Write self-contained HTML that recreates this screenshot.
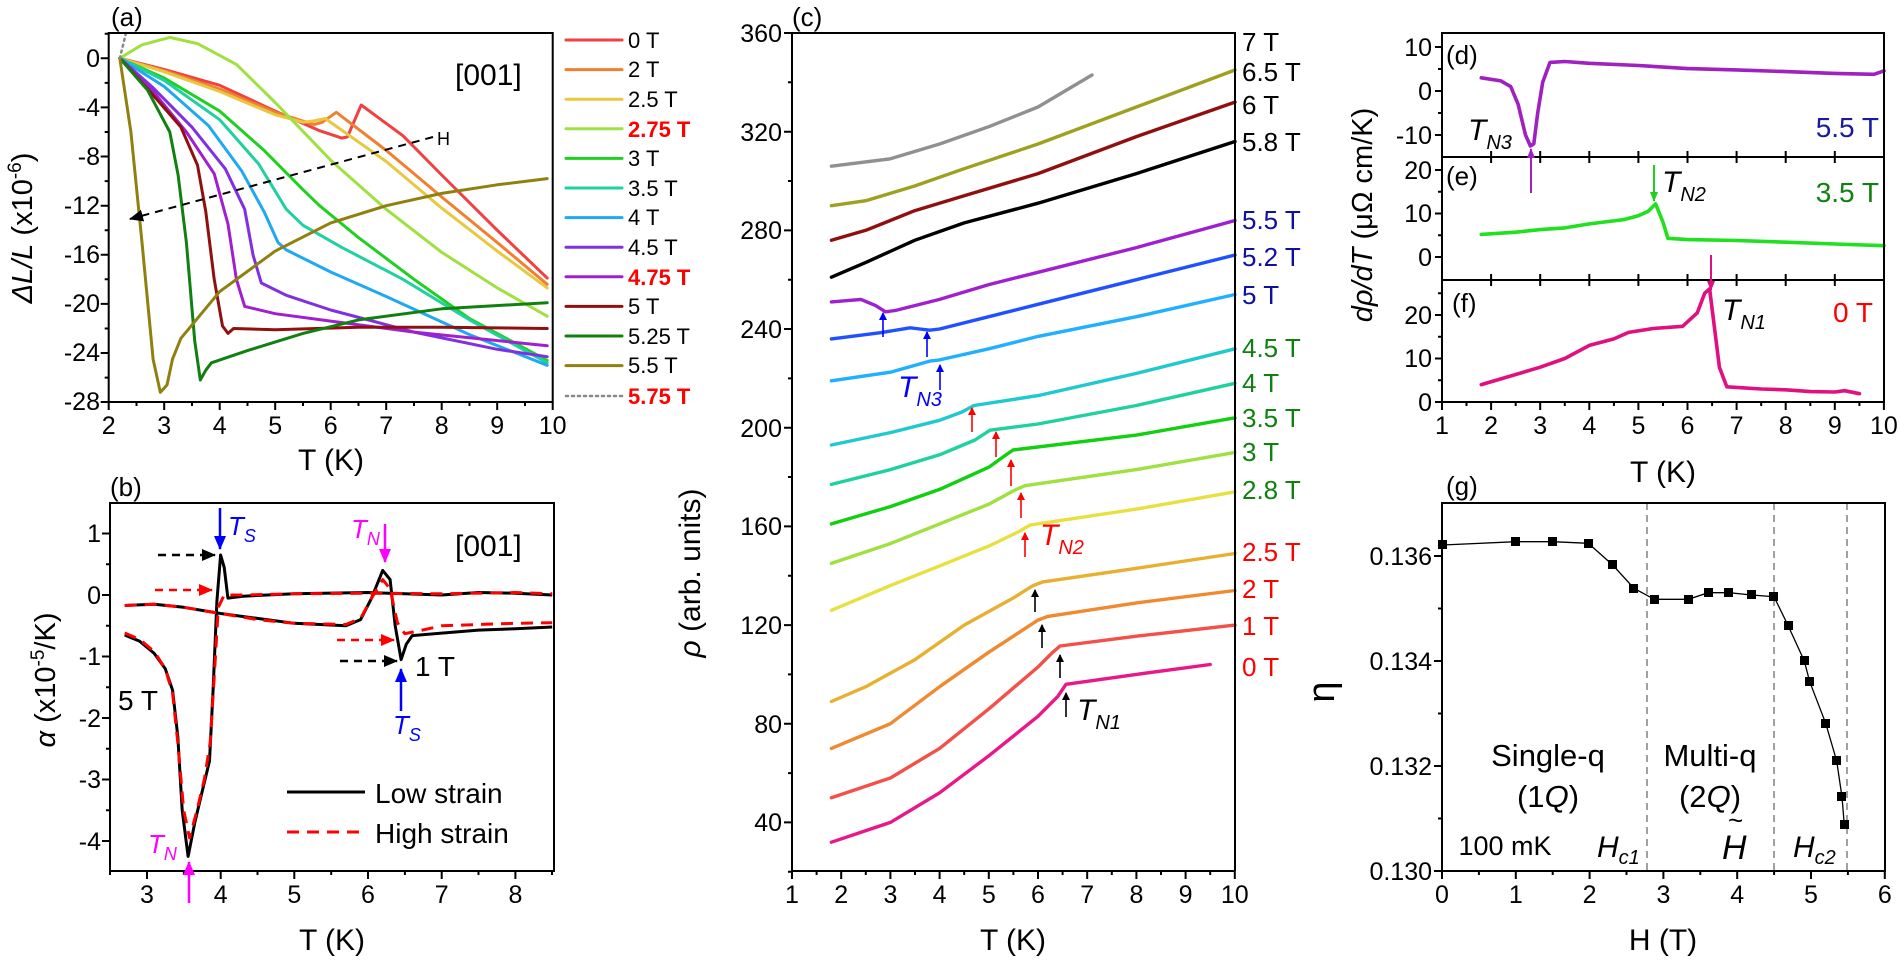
<!DOCTYPE html>
<html><head><meta charset="utf-8"><style>
html,body{margin:0;padding:0;background:#fff}
svg{display:block;font-family:"Liberation Sans",sans-serif}
</style></head><body>
<svg width="1900" height="964" viewBox="0 0 1900 964" xmlns="http://www.w3.org/2000/svg">
<rect width="1900" height="964" fill="#fff"/>
<defs>
<marker id="ak" markerWidth="8" markerHeight="8" refX="7" refY="4" orient="auto" markerUnits="userSpaceOnUse"><path d="M0,0 L8,4 L0,8z" fill="#000"/></marker>
<marker id="ak2" markerWidth="14" markerHeight="12" refX="13" refY="6" orient="auto" markerUnits="userSpaceOnUse"><path d="M0,0 L14,6 L0,12z" fill="#000"/></marker>
<marker id="ar2" markerWidth="14" markerHeight="12" refX="13" refY="6" orient="auto" markerUnits="userSpaceOnUse"><path d="M0,0 L14,6 L0,12z" fill="#f00"/></marker>
<marker id="ab" markerWidth="14" markerHeight="12" refX="13" refY="6" orient="auto" markerUnits="userSpaceOnUse"><path d="M0,0 L14,6 L0,12z" fill="#00f"/></marker>
<marker id="am" markerWidth="14" markerHeight="12" refX="13" refY="6" orient="auto" markerUnits="userSpaceOnUse"><path d="M0,0 L14,6 L0,12z" fill="#f0f"/></marker>
<marker id="ar" markerWidth="8" markerHeight="8" refX="7" refY="4" orient="auto" markerUnits="userSpaceOnUse"><path d="M0,0 L8,4 L0,8z" fill="#f00"/></marker>
<marker id="ab2" markerWidth="8" markerHeight="8" refX="7" refY="4" orient="auto" markerUnits="userSpaceOnUse"><path d="M0,0 L8,4 L0,8z" fill="#00f"/></marker>
<marker id="ag" markerWidth="10" markerHeight="10" refX="9" refY="4" orient="auto" markerUnits="userSpaceOnUse"><path d="M0,0 L10,4 L0,8z" fill="#20d020"/></marker>
<marker id="ap" markerWidth="10" markerHeight="10" refX="9" refY="4" orient="auto" markerUnits="userSpaceOnUse"><path d="M0,0 L10,4 L0,8z" fill="#a020c0"/></marker>
<marker id="apk" markerWidth="10" markerHeight="10" refX="9" refY="4" orient="auto" markerUnits="userSpaceOnUse"><path d="M0,0 L10,4 L0,8z" fill="#e01080"/></marker>
</defs>

<!-- ================= (a) ================= -->
<g fill="none" stroke-width="3" stroke-linejoin="round" stroke-linecap="round">
<polyline stroke="#f04040" points="119.8,58.3 164.2,69.4 219.7,85.3 275.2,111.1 319.6,130.7 341.8,138.1 347.4,136.9 361.2,105 402.9,135.7 441.7,175 497.2,230.2 547.2,278.1"/>
<polyline stroke="#f08030" points="119.8,58.3 164.2,70.6 219.7,89 275.2,112.3 314.1,124.6 322.4,122.2 336.3,112.3 386.2,150.4 441.7,197 497.2,242.5 547.2,284.3"/>
<polyline stroke="#e8c840" points="119.8,58.3 164.2,71.8 219.7,91.5 275.2,114.8 303,122.2 314.1,120.9 325.2,118.5 386.2,161.5 441.7,208.1 497.2,251.1 547.2,287.9"/>
<polyline stroke="#a0e040" points="119.8,58.3 142,44.8 169.8,37.4 197.5,43.6 236.4,64.4 275.2,102.5 330.7,160.2 386.2,209.3 441.7,252.3 497.2,287.9 547.2,316.2"/>
<polyline stroke="#20d020" points="119.8,58.3 164.2,78 219.7,111.1 264.1,150.4 303,189.7 319.6,205.7 358.5,237.6 414,279.3 469.5,318.6 547.2,360.4"/>
<polyline stroke="#20d0a0" points="119.8,58.3 164.2,80.4 219.7,119.7 258.6,163.9 286.3,209.3 303,225.3 341.8,247.4 402.9,279.3 469.5,319.9 547.2,362.8"/>
<polyline stroke="#20a8f0" points="119.8,58.3 164.2,86.5 208.6,125.8 241.9,171.3 264.1,211.8 278,242.5 286.3,249.9 330.7,272 386.2,296.5 469.5,334.6 547.2,365.3"/>
<polyline stroke="#8030e0" points="119.8,58.3 153.1,87.8 191.9,127.1 225.3,168.8 244.7,209.3 253,254.8 261.3,283 286.3,295.3 330.7,310 414,332.1 497.2,349.3 547.2,356.7"/>
<polyline stroke="#a020d0" points="119.8,58.3 153.1,91.5 186.4,132 214.2,173.7 228,224.1 236.4,279.3 244.7,306.4 275.2,313.7 330.7,321.1 414,332.1 547.2,345.7"/>
<polyline stroke="#901010" points="119.8,58.3 153.1,95.1 180.9,127.1 197.5,165.1 205.8,211.8 214.2,279.3 222.5,326 228,333.4 233.6,328.5 275.2,329.7 358.5,327.2 441.7,327.2 547.2,328.5"/>
<polyline stroke="#108010" points="119.8,58.3 147.6,90.2 169.8,132 178.1,175 186.4,242.5 194.7,340.7 200.3,380 205.8,370.2 211.4,362.8 247.5,350.6 303,333.4 358.5,319.9 441.7,308.8 547.2,302.7"/>
<polyline stroke="#908010" points="119.8,58.3 130.9,132 142,242.5 153.1,359.2 160.3,392.3 167,385 172.5,359.2 180.9,338.3 219.7,291.6 275.2,251.1 330.7,222.9 386.2,205.7 441.7,193.4 497.2,184.8 547.2,178.6"/>
<polyline stroke="#888" stroke-width="2.5" stroke-dasharray="2,4" points="119.8,58.3 126,33"/>
<!-- legend lines -->
<line x1="566" y1="40" x2="622" y2="40" stroke="#f04040"/>
<line x1="566" y1="69.6" x2="622" y2="69.6" stroke="#f08030"/>
<line x1="566" y1="99.2" x2="622" y2="99.2" stroke="#e8c840"/>
<line x1="566" y1="128.8" x2="622" y2="128.8" stroke="#a0e040"/>
<line x1="566" y1="158.4" x2="622" y2="158.4" stroke="#20d020"/>
<line x1="566" y1="188" x2="622" y2="188" stroke="#20d0a0"/>
<line x1="566" y1="217.6" x2="622" y2="217.6" stroke="#20a8f0"/>
<line x1="566" y1="247.2" x2="622" y2="247.2" stroke="#8030e0"/>
<line x1="566" y1="276.8" x2="622" y2="276.8" stroke="#a020d0"/>
<line x1="566" y1="306.4" x2="622" y2="306.4" stroke="#901010"/>
<line x1="566" y1="336" x2="622" y2="336" stroke="#108010"/>
<line x1="566" y1="365.6" x2="622" y2="365.6" stroke="#908010"/>
<line x1="566" y1="396" x2="622" y2="396" stroke="#888" stroke-width="2.5" stroke-dasharray="2,4"/>
</g>
<line x1="433" y1="137" x2="130" y2="219" stroke="#000" stroke-width="2" stroke-dasharray="8,6" marker-end="url(#ak2)"/>
<rect x="108.7" y="33" width="444" height="369" fill="none" stroke="#000" stroke-width="2"/>
<path stroke="#000" stroke-width="2" fill="none" d="M108.7,402v8M164.2,402v8M219.7,402v8M275.2,402v8M330.7,402v8M386.2,402v8M441.7,402v8M497.2,402v8M552.7,402v8
M136.5,402v4M192,402v4M247.5,402v4M303,402v4M358.5,402v4M414,402v4M469.5,402v4M525,402v4
M108.7,58.3h-8M108.7,107.4h-8M108.7,156.5h-8M108.7,205.7h-8M108.7,254.8h-8M108.7,303.9h-8M108.7,353h-8M108.7,402h-8
M108.7,33.7h-4M108.7,82.9h-4M108.7,132h-4M108.7,181.1h-4M108.7,230.2h-4M108.7,279.3h-4M108.7,328.5h-4M108.7,377.6h-4"/>
<g font-size="25" text-anchor="end">
<text x="100" y="67">0</text><text x="100" y="116">-4</text><text x="100" y="165">-8</text><text x="100" y="214">-12</text>
<text x="100" y="263">-16</text><text x="100" y="312">-20</text><text x="100" y="361">-24</text><text x="100" y="410">-28</text>
</g>
<g font-size="25" text-anchor="middle">
<text x="108.7" y="434">2</text><text x="164.2" y="434">3</text><text x="219.7" y="434">4</text><text x="275.2" y="434">5</text>
<text x="330.7" y="434">6</text><text x="386.2" y="434">7</text><text x="441.7" y="434">8</text><text x="497.2" y="434">9</text><text x="552.7" y="434">10</text>
</g>
<text x="111" y="26" font-size="26">(a)</text>
<text x="455" y="85" font-size="30">[001]</text>
<text x="437" y="145" font-size="18">H</text>
<text x="331" y="470" font-size="30" text-anchor="middle">T (K)</text>
<text transform="translate(32,228) rotate(-90)" text-anchor="middle" font-size="29"><tspan font-style="italic">ΔL/L</tspan> (x10<tspan dy="-11" font-size="19">-6</tspan><tspan dy="11">)</tspan></text>
<g font-size="22">
<text x="628" y="48">0 T</text><text x="628" y="77">2 T</text><text x="628" y="107">2.5 T</text>
<text x="628" y="137" fill="#f00" font-weight="bold">2.75 T</text>
<text x="628" y="166">3 T</text><text x="628" y="196">3.5 T</text><text x="628" y="225">4 T</text>
<text x="628" y="255">4.5 T</text>
<text x="628" y="285" fill="#f00" font-weight="bold">4.75 T</text>
<text x="628" y="314">5 T</text><text x="628" y="344">5.25 T</text><text x="628" y="373">5.5 T</text>
<text x="628" y="404" fill="#f00" font-weight="bold">5.75 T</text>
</g>

<!-- ================= (b) ================= -->
<g fill="none" stroke-width="3" stroke-linejoin="round">
<polyline stroke="#000" points="124.7,635 139.5,641.1 154.2,653.4 165.3,668.8 172.6,690.3 177.8,736.5 182.2,810.3 188.1,856.4 194.8,822.6 202.1,791.8 209.5,761 213.2,687.3 216.9,601.2 220.6,555 224.2,567.3 227.9,598.1 242.7,596.2 294.3,593.8 368,592.5 404.8,593.8 441.7,595 478.5,592.5 515.4,593.2 552.2,595"/>
<polyline stroke="#000" points="124.7,605.5 154.2,604.2 183.7,607.3 220.6,613.5 257.4,618.4 294.3,623.3 345.8,625.8 360.6,619.6 371.6,598.1 382.7,570.4 390.1,579.6 395.2,625.8 401.1,659.6 406.3,644.2 412.2,635.6 441.7,633.1 478.5,630.1 515.4,628.8 552.2,627"/>
<polyline stroke="#f00" stroke-dasharray="12,8" points="124.7,633 139.5,639.3 154.2,651.6 165.3,668.8 172.6,693.4 177.8,742.6 183.7,810.3 189.6,837.9 197,810.3 204.3,779.5 210.2,742.6 214.7,668.8 218.3,607.3 224.2,595 242.7,595 294.3,593.8 368,593.2 441.7,593.8 515.4,592.5 552.2,593.8"/>
<polyline stroke="#f00" stroke-dasharray="12,8" points="124.7,605.5 154.2,604.2 183.7,607.3 220.6,613.5 257.4,619.6 294.3,623.3 345.8,624.5 360.6,618.4 371.6,598.1 382.7,579.6 390.1,588.9 397.4,622.7 404.8,633.7 419.5,630.7 441.7,625.8 478.5,624.5 515.4,623.3 552.2,622.7"/>
</g>
<rect x="110" y="503" width="444" height="368" fill="none" stroke="#000" stroke-width="2"/>
<path stroke="#000" stroke-width="2" fill="none" d="M147,871v8M220.7,871v8M294.3,871v8M368,871v8M441.7,871v8M515.4,871v8
M110,871v4M183.9,871v4M257.5,871v4M331.2,871v4M404.9,871v4M478.5,871v4M552,871v4
M110,533.5h-8M110,595h-8M110,656.5h-8M110,718h-8M110,779.5h-8M110,841h-8
M110,564.3h-4M110,625.8h-4M110,687.3h-4M110,748.8h-4M110,810.3h-4"/>
<g font-size="25" text-anchor="end">
<text x="101" y="542">1</text><text x="101" y="604">0</text><text x="101" y="665">-1</text><text x="101" y="727">-2</text><text x="101" y="788">-3</text><text x="101" y="850">-4</text>
</g>
<g font-size="25" text-anchor="middle">
<text x="147" y="903">3</text><text x="220.7" y="903">4</text><text x="294.3" y="903">5</text><text x="368" y="903">6</text><text x="441.7" y="903">7</text><text x="515.4" y="903">8</text>
</g>
<text x="110" y="496" font-size="26">(b)</text>
<text x="455" y="556" font-size="30">[001]</text>
<text x="118" y="710" font-size="28">5 T</text>
<text x="415" y="676" font-size="28">1 T</text>
<text x="375" y="803" font-size="28">Low strain</text>
<text x="375" y="843" font-size="28">High strain</text>
<text x="332" y="950" font-size="30" text-anchor="middle">T (K)</text>
<text transform="translate(55,680) rotate(-90)" text-anchor="middle" font-size="29"><tspan font-style="italic">α</tspan> (x10<tspan dy="-11" font-size="19">-5</tspan><tspan dy="11">/K)</tspan></text>
<g font-style="italic" font-size="26">
<text x="228" y="535" fill="#00f">T<tspan dy="7" font-size="18">S</tspan></text>
<text x="351" y="538" fill="#f0f">T<tspan dy="7" font-size="18">N</tspan></text>
<text x="393" y="734" fill="#00f">T<tspan dy="7" font-size="18">S</tspan></text>
<text x="148" y="853" fill="#f0f">T<tspan dy="7" font-size="18">N</tspan></text>
</g>
<g stroke-width="2.5">
<line x1="158" y1="555" x2="215" y2="555" stroke="#000" stroke-dasharray="8,6" marker-end="url(#ak2)"/>
<line x1="155" y1="590" x2="212" y2="590" stroke="#f00" stroke-dasharray="8,6" marker-end="url(#ar2)"/>
<line x1="337" y1="640" x2="394" y2="640" stroke="#f00" stroke-dasharray="8,6" marker-end="url(#ar2)"/>
<line x1="340" y1="661" x2="397" y2="661" stroke="#000" stroke-dasharray="8,6" marker-end="url(#ak2)"/>
<line x1="220" y1="508" x2="220" y2="549" stroke="#00f" marker-end="url(#ab)"/>
<line x1="385" y1="524" x2="385" y2="562" stroke="#f0f" marker-end="url(#am)"/>
<line x1="401" y1="711" x2="401" y2="669" stroke="#00f" marker-end="url(#ab)"/>
<line x1="189" y1="903" x2="189" y2="862" stroke="#f0f" marker-end="url(#am)"/>
<line x1="287" y1="792" x2="365" y2="792" stroke="#000" stroke-width="3"/>
<line x1="287" y1="832" x2="365" y2="832" stroke="#f00" stroke-width="3" stroke-dasharray="12,8"/>
</g>

<!-- ================= (c) ================= -->
<g fill="none" stroke-width="3.4" stroke-linejoin="round" stroke-linecap="round">
<polyline stroke="#e8178a" points="831.4,842.2 890.4,822.4 939.6,792.8 988.8,755.8 1038,716.3 1057.7,696.6 1066,684.3 1136.4,674.4 1210.2,664.5"/>
<polyline stroke="#f4504a" points="831.4,797.7 890.4,778 939.6,748.4 988.8,708.9 1038,667 1052,653 1060,646 1136.4,636.2 1235,625.1"/>
<polyline stroke="#f08a30" points="831.4,748.4 890.4,723.7 939.6,686.7 988.8,652.2 1038,620.1 1047.8,616.4 1136.4,602.9 1235,590.5"/>
<polyline stroke="#e8b030" points="831.4,701.5 865.8,686.7 915,659.6 964.2,625.1 1013.4,597.9 1033.1,585.6 1042.9,581.9 1136.4,568.3 1235,553.5"/>
<polyline stroke="#e8e040" points="831.4,610.3 890.4,585.6 939.6,565.9 988.8,546.1 1020,531 1030,525.1 1136.4,509.1 1235,491.8"/>
<polyline stroke="#a0e040" points="831.4,563.4 890.4,543.6 939.6,523.9 988.8,504.2 1015,490 1025,485.7 1136.4,469.6 1235,452.4"/>
<polyline stroke="#10d010" points="831.4,523.9 890.4,506.6 939.6,489.4 988.8,467.2 1003,457 1013,450 1136.4,435.1 1235,417.8"/>
<polyline stroke="#20d0a0" points="831.4,484.4 890.4,469.6 939.6,454.8 975,440 990,430.2 1038,424 1136.4,405.5 1235,383.3"/>
<polyline stroke="#20c8d0" points="831.4,445 890.4,432.6 939.6,420.3 962,412 974,405.5 1038,395.6 1136.4,373.4 1235,348.8"/>
<polyline stroke="#20b0ff" points="831.4,380.8 890.4,372.2 929.8,361.1 939.6,359.9 988.8,348.8 1038,336.4 1136.4,316.7 1235,294.5"/>
<polyline stroke="#2050ff" points="831.4,338.9 880.6,332.7 910.1,327.8 919.9,329 929.8,330.2 939.6,329 988.8,316.7 1038,304.3 1136.4,279.7 1235,255"/>
<polyline stroke="#a020d0" points="831.4,301.9 860.9,299.4 875.6,305.6 885.5,311.8 895.3,310.5 939.6,299.4 988.8,284.6 1038,272.3 1136.4,247.6 1235,220.5"/>
<polyline stroke="#000" points="831.4,277.2 865.8,262.4 915,240.2 964.2,222.9 1038,203.2 1136.4,173.6 1235,141.5"/>
<polyline stroke="#901010" points="831.4,240.2 865.8,230.3 915,210.6 964.2,195.8 1038,173.6 1136.4,136.6 1235,102.1"/>
<polyline stroke="#a0a020" points="831.4,205.7 865.8,200.7 915,185.9 964.2,168.7 1038,144 1136.4,107 1235,70"/>
<polyline stroke="#909090" points="831.4,166.2 890.4,158.8 939.6,144 988.8,126.7 1038,107 1092,75"/>
</g>
<path stroke="#000" stroke-width="2" fill="none" d="M792,33H1235V871M792,33V871H1235
M792,871v8M841.2,871v8M890.4,871v8M939.6,871v8M988.8,871v8M1038,871v8M1087.2,871v8M1136.4,871v8M1185.6,871v8M1234.8,871v8
M816.6,871v4M865.8,871v4M915,871v4M964.2,871v4M1013.4,871v4M1062.6,871v4M1111.8,871v4M1161,871v4M1210.2,871v4
M792,33h-8M792,131.7h-8M792,230.4h-8M792,329h-8M792,427.7h-8M792,526.4h-8M792,625.1h-8M792,723.8h-8M792,822.4h-8
M792,82.3h-4M792,181h-4M792,279.7h-4M792,378.4h-4M792,477h-4M792,575.8h-4M792,674.4h-4M792,773.1h-4M792,871.8h-4"/>
<g font-size="25" text-anchor="end">
<text x="782" y="42">360</text><text x="782" y="141">320</text><text x="782" y="239">280</text><text x="782" y="338">240</text>
<text x="782" y="437">200</text><text x="782" y="535">160</text><text x="782" y="634">120</text><text x="782" y="733">80</text><text x="782" y="831">40</text>
</g>
<g font-size="25" text-anchor="middle">
<text x="792" y="903">1</text><text x="841.2" y="903">2</text><text x="890.4" y="903">3</text><text x="939.6" y="903">4</text><text x="988.8" y="903">5</text>
<text x="1038" y="903">6</text><text x="1087.2" y="903">7</text><text x="1136.4" y="903">8</text><text x="1185.6" y="903">9</text><text x="1234.8" y="903">10</text>
</g>
<text x="792" y="26" font-size="26">(c)</text>
<text x="1013" y="950" font-size="30" text-anchor="middle">T (K)</text>
<text transform="translate(700,573) rotate(-90)" text-anchor="middle" font-size="30"><tspan font-style="italic">ρ</tspan> (arb. units)</text>
<g font-size="26">
<text x="1242" y="51">7 T</text><text x="1242" y="81">6.5 T</text><text x="1242" y="114">6 T</text><text x="1242" y="151">5.8 T</text>
<text x="1242" y="229" fill="#1010a0">5.5 T</text><text x="1242" y="266" fill="#1010a0">5.2 T</text><text x="1242" y="304" fill="#1010a0">5 T</text>
<text x="1242" y="357" fill="#108010">4.5 T</text><text x="1242" y="392" fill="#108010">4 T</text><text x="1242" y="427" fill="#108010">3.5 T</text><text x="1242" y="461" fill="#108010">3 T</text><text x="1242" y="499" fill="#108010">2.8 T</text>
<text x="1242" y="561" fill="#f00">2.5 T</text><text x="1242" y="598" fill="#f00">2 T</text><text x="1242" y="635" fill="#f00">1 T</text><text x="1242" y="676" fill="#f00">0 T</text>
</g>
<g font-style="italic" font-size="30">
<text x="898" y="397" fill="#00f">T<tspan dy="9" font-size="20">N3</tspan></text>
<text x="1040" y="545" fill="#f00">T<tspan dy="9" font-size="20">N2</tspan></text>
<text x="1077" y="720" fill="#000">T<tspan dy="9" font-size="20">N1</tspan></text>
</g>
<g stroke-width="1.6">
<line x1="1066" y1="717" x2="1066" y2="693" stroke="#000" marker-end="url(#ak)"/>
<line x1="1060" y1="678" x2="1060" y2="655" stroke="#000" marker-end="url(#ak)"/>
<line x1="1042" y1="648" x2="1042" y2="625" stroke="#000" marker-end="url(#ak)"/>
<line x1="1035" y1="612" x2="1035" y2="590" stroke="#000" marker-end="url(#ak)"/>
<line x1="1025" y1="557" x2="1025" y2="533" stroke="#f00" marker-end="url(#ar)"/>
<line x1="1021" y1="518" x2="1021" y2="493" stroke="#f00" marker-end="url(#ar)"/>
<line x1="1011" y1="486" x2="1011" y2="460" stroke="#f00" marker-end="url(#ar)"/>
<line x1="996" y1="457" x2="996" y2="432" stroke="#f00" marker-end="url(#ar)"/>
<line x1="972" y1="432" x2="972" y2="408" stroke="#f00" marker-end="url(#ar)"/>
<line x1="940" y1="390" x2="940" y2="365" stroke="#00f" marker-end="url(#ab2)"/>
<line x1="927" y1="357" x2="927" y2="332" stroke="#00f" marker-end="url(#ab2)"/>
<line x1="883" y1="337" x2="883" y2="313" stroke="#00f" marker-end="url(#ab2)"/>
</g>

<!-- ================= (d,e,f) ================= -->
<g fill="none" stroke-width="3.6" stroke-linejoin="round" stroke-linecap="round">
<polyline stroke="#a020c0" points="1481.3,77.8 1500.9,80.9 1510.7,86.6 1518.1,104.2 1525.5,135 1530.4,146 1533.8,143.8 1537.7,113 1542.7,82.2 1550,62.4 1564.8,61.5 1589.3,63.3 1638.4,65.5 1687.5,68.6 1736.6,69.9 1785.7,71.6 1834.8,73.4 1874.1,74.3 1884,70.8"/>
<polyline stroke="#20e020" points="1481.3,234.4 1515.7,232.2 1540.2,229.6 1564.8,227.9 1589.3,223.9 1623.7,219.6 1638.4,215.7 1648.2,211.3 1655.6,203.9 1663,222.2 1667.9,238.3 1687.5,239.6 1736.6,240.5 1785.7,242.2 1834.8,244 1884,245.7"/>
<polyline stroke="#e01080" points="1481.3,384.6 1500.9,378.9 1540.2,367.2 1564.8,358.5 1589.3,345.4 1613.9,338.9 1628.6,332.4 1653.1,328.5 1682.6,326.3 1697.3,312.8 1704.7,293.2 1709.6,288.9 1714.5,328 1719.4,367.2 1726.8,386.8 1761.2,389 1785.7,389.8 1810.4,391.6 1834.8,392 1844.6,390.7 1859.4,393.7"/>
</g>
<rect x="1442" y="33" width="442" height="369" fill="none" stroke="#000" stroke-width="2"/>
<path stroke="#000" stroke-width="2" fill="none" d="M1442,157H1884M1442,280H1884
M1442,402v8M1491.1,402v8M1540.2,402v8M1589.3,402v8M1638.4,402v8M1687.5,402v8M1736.6,402v8M1785.7,402v8M1834.8,402v8M1883.9,402v8
M1466.5,402v4M1515.7,402v4M1564.8,402v4M1613.9,402v4M1663,402v4M1712.1,402v4M1761.2,402v4M1810.3,402v4M1859.4,402v4
M1491.1,151v12M1540.2,151v12M1589.3,151v12M1638.4,151v12M1687.5,151v12M1736.6,151v12M1785.7,151v12M1834.8,151v12
M1491.1,274v12M1540.2,274v12M1589.3,274v12M1638.4,274v12M1687.5,274v12M1736.6,274v12M1785.7,274v12M1834.8,274v12
M1442,47h-7M1442,91h-7M1442,135h-7M1442,69h-4M1442,113h-4
M1442,170h-7M1442,213.5h-7M1442,257h-7M1442,191.8h-4M1442,235.3h-4
M1442,315h-7M1442,358.5h-7M1442,402h-7M1442,293.3h-4M1442,336.8h-4M1442,380.3h-4"/>
<g font-size="25" text-anchor="end">
<text x="1432" y="56">10</text><text x="1432" y="100">0</text><text x="1432" y="144">-10</text>
<text x="1432" y="179">20</text><text x="1432" y="222">10</text><text x="1432" y="266">0</text>
<text x="1432" y="324">20</text><text x="1432" y="367">10</text><text x="1432" y="411">0</text>
</g>
<g font-size="25" text-anchor="middle">
<text x="1442" y="434">1</text><text x="1491.1" y="434">2</text><text x="1540.2" y="434">3</text><text x="1589.3" y="434">4</text><text x="1638.4" y="434">5</text>
<text x="1687.5" y="434">6</text><text x="1736.6" y="434">7</text><text x="1785.7" y="434">8</text><text x="1834.8" y="434">9</text><text x="1883.9" y="434">10</text>
</g>
<g font-size="26">
<text x="1446" y="64">(d)</text><text x="1446" y="185">(e)</text><text x="1452" y="312">(f)</text>
</g>
<g font-style="italic" font-size="30">
<text x="1468" y="140">T<tspan dy="9" font-size="20">N3</tspan></text>
<text x="1662" y="192">T<tspan dy="9" font-size="20">N2</tspan></text>
<text x="1722" y="320">T<tspan dy="9" font-size="20">N1</tspan></text>
</g>
<g font-size="28" text-anchor="end">
<text x="1879" y="137" fill="#1a1aa0">5.5 T</text>
<text x="1879" y="202" fill="#108010">3.5 T</text>
<text x="1873" y="322" fill="#f00">0 T</text>
</g>
<text x="1663" y="482" font-size="30" text-anchor="middle">T (K)</text>
<text transform="translate(1372,215) rotate(-90)" text-anchor="middle" font-size="29"><tspan font-style="italic">dρ/dT</tspan> (μΩ cm/K)</text>
<g stroke-width="2">
<line x1="1531" y1="193" x2="1531" y2="149" stroke="#a020c0" marker-end="url(#ap)"/>
<line x1="1654" y1="165" x2="1654" y2="201" stroke="#20d020" marker-end="url(#ag)"/>
<line x1="1711" y1="255" x2="1711" y2="290" stroke="#e01080" marker-end="url(#apk)"/>
</g>

<!-- ================= (g) ================= -->
<g stroke="#888" stroke-width="1.6" stroke-dasharray="7,5">
<line x1="1647" y1="503" x2="1647" y2="871"/><line x1="1774" y1="503" x2="1774" y2="871"/><line x1="1847" y1="503" x2="1847" y2="871"/>
</g>
<polyline fill="none" stroke="#000" stroke-width="1.3" points="1442.7,545 1515.7,541.7 1552.7,541.7 1588.3,543.3 1612.7,565 1634,588.3 1654.3,599.3 1688.3,599.3 1708.3,592.7 1729,592.7 1751.7,595 1774,596.7 1788.3,626 1804.3,661 1809.7,681.7 1825.7,723.3 1836.7,761 1842,797 1844.3,825"/>
<g fill="#000">
<rect x="1438" y="540" width="9" height="9"/><rect x="1511" y="537" width="9" height="9"/><rect x="1548" y="537" width="9" height="9"/><rect x="1584" y="539" width="9" height="9"/>
<rect x="1608" y="560" width="9" height="9"/><rect x="1629" y="584" width="9" height="9"/><rect x="1650" y="595" width="9" height="9"/><rect x="1684" y="595" width="9" height="9"/>
<rect x="1704" y="588" width="9" height="9"/><rect x="1724" y="588" width="9" height="9"/><rect x="1747" y="590" width="9" height="9"/><rect x="1769" y="592" width="9" height="9"/>
<rect x="1784" y="621" width="9" height="9"/><rect x="1800" y="656" width="9" height="9"/><rect x="1805" y="677" width="9" height="9"/><rect x="1821" y="719" width="9" height="9"/>
<rect x="1832" y="756" width="9" height="9"/><rect x="1837" y="792" width="9" height="9"/><rect x="1840" y="820" width="9" height="9"/>
</g>
<rect x="1442" y="503" width="443" height="368" fill="none" stroke="#000" stroke-width="2"/>
<path stroke="#000" stroke-width="2" fill="none" d="M1442,871v8M1515.8,871v8M1589.6,871v8M1663.4,871v8M1737.2,871v8M1811,871v8M1884.8,871v8
M1478.9,871v4M1552.7,871v4M1626.5,871v4M1700.3,871v4M1774.1,871v4M1847.9,871v4
M1442,556h-8M1442,661h-8M1442,766h-8M1442,871h-8M1442,608.5h-4M1442,713.5h-4M1442,818.5h-4"/>
<g font-size="25" text-anchor="end">
<text x="1432" y="565">0.136</text><text x="1432" y="670">0.134</text><text x="1432" y="775">0.132</text><text x="1432" y="880">0.130</text>
</g>
<g font-size="25" text-anchor="middle">
<text x="1442" y="903">0</text><text x="1515.8" y="903">1</text><text x="1589.6" y="903">2</text><text x="1663.4" y="903">3</text>
<text x="1737.2" y="903">4</text><text x="1811" y="903">5</text><text x="1884.8" y="903">6</text>
</g>
<text x="1446" y="495" font-size="26">(g)</text>
<text x="1548" y="766" text-anchor="middle" font-size="31">Single-q</text>
<text x="1548" y="807" text-anchor="middle" font-size="31">(1<tspan font-style="italic">Q</tspan>)</text>
<text x="1710" y="766" text-anchor="middle" font-size="31">Multi-q</text>
<text x="1710" y="807" text-anchor="middle" font-size="31">(2<tspan font-style="italic">Q</tspan>)</text>
<text x="1505" y="855" text-anchor="middle" font-size="27">100 mK</text>
<text x="1597" y="857" font-style="italic" font-size="30">H<tspan dy="7" font-size="20">c1</tspan></text>
<text x="1722" y="859" font-style="italic" font-size="34">H</text>
<text x="1728" y="829" font-size="26">~</text>
<text x="1793" y="857" font-style="italic" font-size="30">H<tspan dy="7" font-size="20">c2</tspan></text>
<text x="1663" y="950" font-size="30" text-anchor="middle">H (T)</text>
<text transform="translate(1334,692) rotate(-90)" text-anchor="middle" font-size="38">η</text>
</svg>
</body></html>
